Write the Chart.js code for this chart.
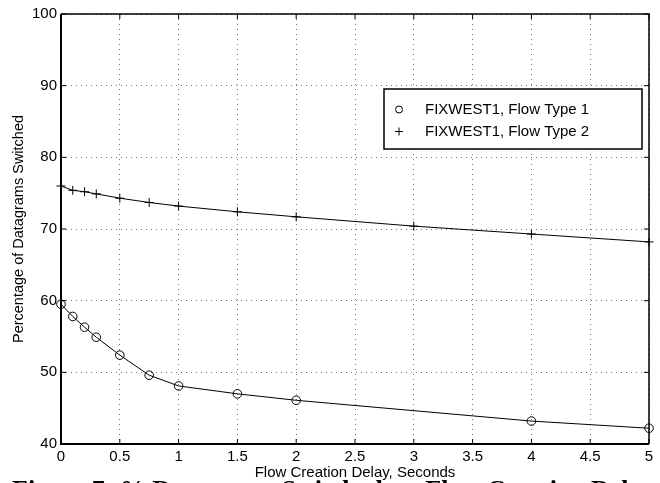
<!DOCTYPE html>
<html>
<head>
<meta charset="utf-8">
<script src="https://cdn.jsdelivr.net/npm/chart.js@4/dist/chart.umd.min.js"></script>
<style>
  html, body { margin: 0; padding: 0; background: #fff; overflow: hidden; }
  canvas { display: block; }
</style>
</head>
<body>
<canvas id="myChart" width="660" height="483"></canvas>
<script>
// values
let delays1 = [0, 0.1, 0.2, 0.3, 0.5, 0.75, 1, 1.5, 2, 4, 5];
let type1 = [59.5, 57.8, 56.3, 54.9, 52.4, 49.6, 48.1, 47.0, 46.1, 43.2, 42.2];
let delays2 = [0, 0.1, 0.2, 0.3, 0.5, 0.75, 1, 1.5, 2, 3, 4, 5];
let type2 = [76.0, 75.4, 75.2, 74.9, 74.3, 73.7, 73.2, 72.4, 71.7, 70.4, 69.3, 68.2];
let seriesLabels = ["FIXWEST1, Flow Type 1", "FIXWEST1, Flow Type 2"];
let xTicks = [0, 0.5, 1, 1.5, 2, 2.5, 3, 3.5, 4, 4.5, 5];
let yTicks = [40, 50, 60, 70, 80, 90, 100];
let xTitle = "Flow Creation Delay, Seconds";
let yTitle = "Percentage of Datagrams Switched";
let caption = "Figure 7: % Datagrams Switched vs. Flow Creation Delay";

const font = "'Liberation Sans', Arial, Helvetica, sans-serif";

function toPoints(xs, ys) {
  return xs.map((x, i) => ({ x: x, y: ys[i] }));
}

// frame, inward ticks, legend box and caption (matlab look)
const framePlugin = {
  id: "frame",
  afterDraw(chart) {
    const ctx = chart.ctx;
    const a = chart.chartArea;
    const xs = chart.scales.x;
    const ys = chart.scales.y;
    ctx.save();
    ctx.strokeStyle = "#000";

    // inward tick marks
    ctx.lineWidth = 1;
    ctx.beginPath();
    xTicks.forEach((v) => {
      let px = xs.getPixelForValue(v);
      ctx.moveTo(px, a.bottom);
      ctx.lineTo(px, a.bottom - 5);
      ctx.moveTo(px, a.top);
      ctx.lineTo(px, a.top + 5);
    });
    yTicks.forEach((v) => {
      let py = ys.getPixelForValue(v);
      ctx.moveTo(a.left, py);
      ctx.lineTo(a.left + 5, py);
      ctx.moveTo(a.right, py);
      ctx.lineTo(a.right - 5, py);
    });
    ctx.stroke();

    // box
    ctx.lineWidth = 1.5;
    ctx.beginPath();
    ctx.moveTo(a.left, a.top);
    ctx.lineTo(a.right, a.top);
    ctx.lineTo(a.right, a.bottom);
    ctx.stroke();
    ctx.lineWidth = 2;
    ctx.beginPath();
    ctx.moveTo(a.left, a.top);
    ctx.lineTo(a.left, a.bottom);
    ctx.lineTo(a.right, a.bottom);
    ctx.stroke();

    // legend
    let lx = 384, ly = 89, lw = 258, lh = 60;
    ctx.fillStyle = "#fff";
    ctx.fillRect(lx, ly, lw, lh);
    ctx.lineWidth = 1.5;
    ctx.strokeRect(lx, ly, lw, lh);
    ctx.lineWidth = 1;
    ctx.beginPath();
    ctx.arc(399, 109.5, 3.5, 0, Math.PI * 2);
    ctx.stroke();
    ctx.beginPath();
    ctx.moveTo(395, 131.5);
    ctx.lineTo(403, 131.5);
    ctx.moveTo(399, 127.5);
    ctx.lineTo(399, 135.5);
    ctx.stroke();
    ctx.fillStyle = "#000";
    ctx.font = "15px " + font;
    ctx.textBaseline = "middle";
    ctx.textAlign = "left";
    ctx.fillText(seriesLabels[0], 425, 110);
    ctx.fillText(seriesLabels[1], 425, 132);

    // caption, cut off by the bottom edge
    ctx.font = "bold 26px 'Liberation Serif', 'Times New Roman', serif";
    ctx.textBaseline = "alphabetic";
    ctx.fillText(caption, 12, 497.5);
    ctx.restore();
  },
};

let ctx = document.getElementById("myChart").getContext("2d");
let myChart = new Chart(ctx, {
  type: "line",
  data: {
    datasets: [
      {
        label: seriesLabels[0],
        data: toPoints(delays1, type1),
        borderColor: "#000",
        borderWidth: 1,
        pointStyle: "circle",
        pointRadius: 4.3,
        pointBorderColor: "#000",
        pointBackgroundColor: "rgba(0,0,0,0)",
        pointBorderWidth: 1,
        tension: 0,
        clip: false,
      },
      {
        label: seriesLabels[1],
        data: toPoints(delays2, type2),
        borderColor: "#000",
        borderWidth: 1,
        pointStyle: "cross",
        pointRadius: 4.5,
        pointBorderColor: "#000",
        pointBorderWidth: 1,
        tension: 0,
        clip: false,
      },
    ],
  },
  options: {
    responsive: false,
    devicePixelRatio: 1,
    animation: false,
    layout: { padding: { left: 0, right: 11, top: 14, bottom: 0 } },
    plugins: {
      legend: { display: false },
      tooltip: { enabled: false },
    },
    scales: {
      x: {
        type: "linear",
        min: 0,
        max: 5,
        afterBuildTicks: (scale) => {
          scale.ticks = xTicks.map((v) => ({ value: v }));
        },
        afterFit: (scale) => {
          scale.height = 39;
        },
        ticks: {
          color: "#000",
          font: { family: font, size: 15 },
          padding: 4,
          maxRotation: 0,
          callback: (v) => String(v),
        },
        grid: {
          color: "#777",
          lineWidth: 1,
          drawTicks: false,
        },
        border: { display: false, dash: [1, 4] },
        title: {
          display: true,
          text: xTitle,
          color: "#000",
          font: { family: font, size: 15 },
          padding: { top: 0, bottom: 1 },
        },
      },
      y: {
        type: "linear",
        min: 40,
        max: 100,
        afterBuildTicks: (scale) => {
          scale.ticks = yTicks.map((v) => ({ value: v }));
        },
        afterFit: (scale) => {
          scale.width = 61;
        },
        ticks: {
          color: "#000",
          font: { family: font, size: 15 },
          padding: 4,
        },
        grid: {
          color: "#777",
          lineWidth: 1,
          drawTicks: false,
        },
        border: { display: false, dash: [1, 4] },
        title: {
          display: true,
          text: yTitle,
          color: "#000",
          font: { family: font, size: 14.5 },
          padding: { top: 10, bottom: 0 },
        },
      },
    },
  },
  plugins: [framePlugin],
});
</script>
</body>
</html>
